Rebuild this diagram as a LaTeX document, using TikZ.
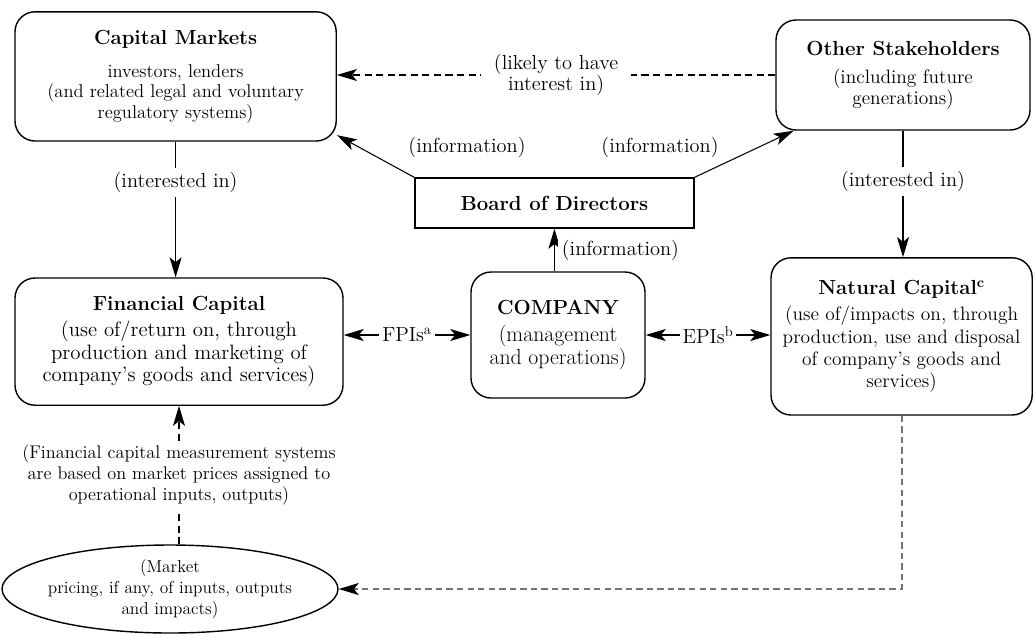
\documentclass[tikz,border=0pt]{standalone}
\usepackage{tikz}
\usetikzlibrary{arrows.meta,shapes.geometric}

\newcommand{\boxtitle}[1]{{\fontsize{14.5}{16}\selectfont\bfseries #1}}

\begin{document}
\begin{tikzpicture}[
    >={Stealth[length=5mm,width=3mm,inset=1.2mm]},
    box/.style={draw,rounded corners=0.5cm,line width=1pt,align=center,inner sep=0pt},
    lbl/.style={fill=white,inner sep=3pt,align=center,font=\fontsize{14.5}{15.5}\selectfont},
    arr/.style={->,line width=0.75pt},
    dashline/.style={line width=0.75pt,dash pattern=on 5pt off 3.2pt},
    greyline/.style={draw=black!55,line width=1.3pt,dash pattern=on 4.5pt off 3pt,
      -{Stealth[length=5mm,width=3mm,inset=1.2mm,color=black]}}
  ]
    \useasboundingbox (0,0) rectangle (25.875,-15.9);

    % Top row
    \node[box,minimum width=8.03cm,minimum height=3.23cm,font=\fontsize{13.2}{14.5}\selectfont]
      (capm) at (4.39,-1.91)
      {\boxtitle{Capital Markets}\\[9pt] investors, lenders\\ (and related legal and voluntary\\ regulatory systems)};
    \node[box,minimum width=6.35cm,minimum height=2.75cm,font=\fontsize{13.8}{14.5}\selectfont]
      (oths) at (22.575,-1.875)
      {\boxtitle{Other Stakeholders}\\[6pt] (including future\\ generations)};
    \node[draw,line width=1.1pt,minimum width=6.98cm,minimum height=1.25cm,inner sep=0pt]
      (board) at (13.86,-5.075) {\boxtitle{Board of Directors}};

    % Middle row
    \node[box,minimum width=8.2cm,minimum height=3.18cm,font=\fontsize{14.8}{16}\selectfont]
      (finc) at (4.475,-8.54)
      {\boxtitle{Financial Capital}\\[3pt] (use of/return on, through\\ production and marketing of\\ company's goods and services)};
    \node[box,minimum width=4.35cm,minimum height=3.15cm,font=\fontsize{15.5}{16}\selectfont]
      (comp) at (13.95,-8.375)
      {\boxtitle{COMPANY}\\[3pt] (management\\ and operations)};
    \node[box,minimum width=6.53cm,minimum height=3.93cm,font=\fontsize{13.8}{15.8}\selectfont]
      (natc) at (22.54,-8.41)
      {\boxtitle{Natural Capital\textsuperscript{c}}\\[3pt] (use of/impacts on, through\\ production, use and disposal\\ of company's goods and\\ services)};

    % Bottom
    \node[ellipse,draw,line width=1pt,minimum width=8.4cm,minimum height=2.2cm,
      inner xsep=-4pt,inner ysep=0pt,align=center,font=\fontsize{12.3}{14.8}\selectfont]
      (mkt) at (4.25,-14.725)
      {(Market\\ pricing, if any, of inputs, outputs\\ and impacts)};

    % Connectors
    \draw[arr,dashline] (oths.west)
      -- node[lbl,inner xsep=9pt] {(likely to have\\ interest in)} (capm.east |- oths.west);
    \draw[arr] (board.north west) -- (capm.-20);
    \draw[arr] (board.north east) -- (oths.207);
    \node[lbl] (info1) at (11.675,-3.675) {(information)};
    \node[lbl] (info2) at (16.5,-3.675) {(information)};
    \draw[arr] (comp.north -| board.south) -- node[lbl,right=2pt] {(information)} (board.south);

    \draw[arr] (capm.south) -- node[lbl,pos=0.3] {(interested in)} (capm.south |- finc.north);
    \draw[arr] (oths.south) -- node[lbl,pos=0.4] {(interested in)} (oths.south |- natc.north);

    \draw[<->,line width=0.75pt] (finc.east |- comp.west) -- node[lbl,inner sep=2pt] {FPIs\textsuperscript{a}} (comp.west);
    \draw[<->,line width=0.75pt] (comp.east) -- node[lbl,inner sep=2pt] {EPIs\textsuperscript{b}} (natc.west |- comp.east);

    \draw[arr,dashline] (finc.south |- mkt.north)
      -- node[lbl,font=\fontsize{13}{15}\selectfont]
      {(Financial capital measurement systems\\ are based on market prices assigned to\\ operational inputs, outputs)} (finc.south);
    \draw[greyline] (natc.south) |- (mkt.east);
\end{tikzpicture}
\end{document}
